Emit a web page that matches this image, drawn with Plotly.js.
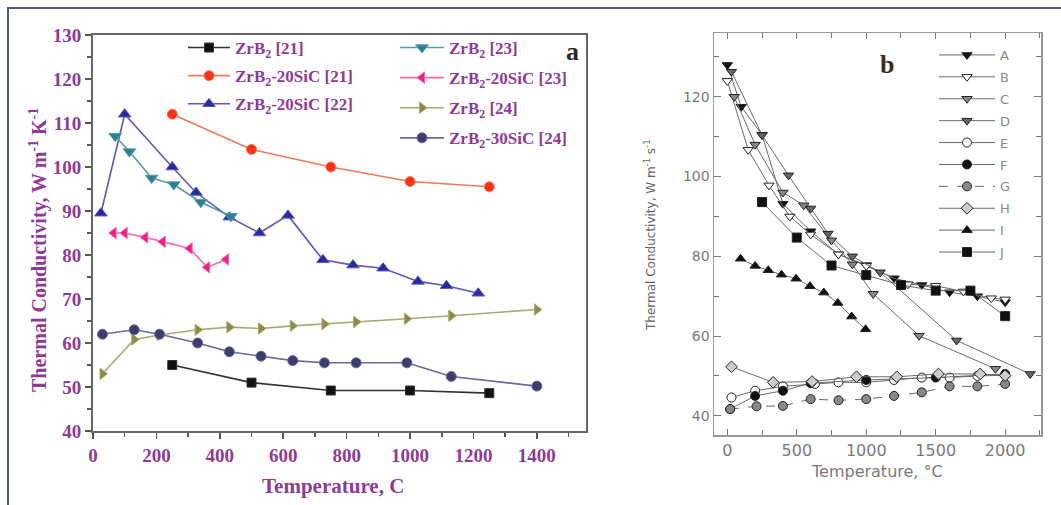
<!DOCTYPE html>
<html>
<head>
<meta charset="utf-8">
<script src="https://cdn.plot.ly/plotly-3.0.1.min.js"></script>
<style>html,body{margin:0;padding:0;background:#fff;}#chart{width:1061px;height:505px;}</style>
</head>
<body>
<div id="chart"></div>
<script>
// ---------- Panel a data (Temperature, C  vs  Thermal conductivity) ----------
const aNames = ["ZrB<sub>2</sub> [21]", "ZrB<sub>2</sub>-20SiC [21]", "ZrB<sub>2</sub>-20SiC [22]",
                "ZrB<sub>2</sub> [23]", "ZrB<sub>2</sub>-20SiC [23]", "ZrB<sub>2</sub> [24]", "ZrB<sub>2</sub>-30SiC [24]"];
const zrb2_21_x = [250, 500, 750, 1000, 1250];
const zrb2_21_y = [55, 51, 49.2, 49.2, 48.6];
const sic20_21_x = [250, 500, 750, 1000, 1250];
const sic20_21_y = [112, 104, 100, 96.7, 95.5];
const sic20_22_x = [25, 100, 250, 325, 430, 525, 615, 725, 820, 915, 1025, 1115, 1215];
const sic20_22_y = [89.5, 112, 100, 94.2, 88.6, 85, 89, 78.9, 77.7, 77, 74, 73, 71.3];
const zrb2_23_x = [70, 115, 185, 255, 340, 435];
const zrb2_23_y = [107, 103.5, 97.5, 96, 92, 88.8];
const sic20_23_x = [65, 100, 165, 220, 305, 360, 420];
const sic20_23_y = [85, 85, 84, 83, 81.5, 77.2, 79];
const zrb2_24_x = [30, 130, 210, 330, 430, 530, 630, 730, 830, 990, 1130, 1400];
const zrb2_24_y = [53, 60.8, 61.8, 63, 63.6, 63.3, 63.9, 64.3, 64.8, 65.5, 66.2, 67.6];
const sic30_24_x = [30, 130, 210, 330, 430, 530, 630, 730, 830, 990, 1130, 1400];
const sic30_24_y = [62, 63, 62, 60, 58, 57, 56, 55.5, 55.5, 55.5, 52.4, 50.2];
const aXTicks = [0, 200, 400, 600, 800, 1000, 1200, 1400];
const aYTicks = [40, 50, 60, 70, 80, 90, 100, 110, 120, 130];

// ---------- Panel b data ----------
const bNames = ["A", "B", "C", "D", "E", "F", "G", "H", "I", "J"];
const bA_x = [0, 100, 250, 400, 600, 800, 1000, 1200, 1400, 1600, 1800, 2000];
const bA_y = [128, 117.5, 110.5, 93.2, 86.3, 80.5, 77.8, 74.5, 72.8, 71, 70, 68.5];
const bB_x = [0, 150, 300, 450, 600, 800, 1000, 1300, 1500, 1700, 1900, 2000];
const bB_y = [124, 106.7, 97.8, 90, 85.5, 80.5, 77.6, 73, 72.6, 71.2, 69.5, 69.2];
const bC_x = [50, 200, 400, 550, 750, 900, 1050, 1380, 1930];
const bC_y = [120, 108, 96, 92.8, 84, 78, 70.6, 60.1, 51.8];
const bD_x = [30, 250, 440, 600, 725, 900, 1100, 1650, 2180];
const bD_y = [126.3, 110.4, 100.3, 92, 85.7, 80, 76, 58.9, 50.5];
const bE_x = [30, 200, 400, 630, 800, 1000, 1200, 1400, 1600, 1800, 2000];
const bE_y = [44.6, 46.3, 47.4, 48, 48.4, 48.4, 49, 49.6, 49.6, 50, 50.2];
const bF_x = [20, 200, 400, 600, 1000, 1500, 2000];
const bF_y = [41.7, 45, 46.3, 48.2, 49, 49.6, 50.5];
const bG_x = [20, 210, 400, 600, 800, 1000, 1200, 1400, 1600, 1800, 2000];
const bG_y = [41.7, 42.4, 42.5, 44.2, 43.9, 44.2, 45, 45.9, 47.4, 47.4, 48];
const bH_x = [30, 330, 610, 930, 1220, 1520, 1820, 2000];
const bH_y = [52.3, 48.4, 48.6, 49.8, 49.8, 50.5, 50.5, 50.1];
const bI_x = [95, 200, 295, 390, 495, 595, 695, 795, 895, 995];
const bI_y = [79.4, 77.6, 76.5, 75.4, 74.4, 72.5, 70.9, 68.3, 64.9, 61.7];
const bJ_x = [250, 500, 750, 1000, 1250, 1500, 1750, 2000];
const bJ_y = [93.6, 84.7, 77.7, 75.3, 72.8, 71.4, 71.4, 65];
const bXTicks = [0, 500, 1000, 1500, 2000];
const bYTicks = [40, 60, 80, 100, 120];

// ---------- styles ----------
const W = 1061, H = 505;
const px = v => v / W, py = v => 1 - v / H;
const purple = '#8e3b98';
const serif = 'Liberation Serif, Times New Roman, serif';
const sans = 'DejaVu Sans, Liberation Sans, Arial, sans-serif';

function aTrace(name, x, y, color, mcolor, symbol, size, leg, grp) {
  return {
    type: 'scatter', mode: 'lines+markers', name: name, x: x, y: y,
    xaxis: 'x', yaxis: 'y', legend: leg, legendgroup: grp,
    line: {color: color, width: 1.6},
    marker: {symbol: symbol, size: size, color: mcolor, line: {color: color, width: 1}}
  };
}
function bTrace(name, x, y, symbol, fill, dash, grp) {
  return {
    type: 'scatter', mode: 'lines+markers', name: name, x: x, y: y,
    xaxis: 'x2', yaxis: 'y2', legend: 'legend3', legendgroup: grp,
    line: {color: '#6a6a6a', width: 1, dash: dash},
    marker: {symbol: symbol, size: 9, color: fill, line: {color: '#222', width: 1}}
  };
}

const data = [
  aTrace(aNames[0], zrb2_21_x, zrb2_21_y, '#333333', '#111111', 'square', 9, 'legend', 'a1'),
  aTrace(aNames[1], sic20_21_x, sic20_21_y, '#f27a5a', '#ff3018', 'circle', 10, 'legend', 'a2'),
  aTrace(aNames[2], sic20_22_x, sic20_22_y, '#5a5ab8', '#2a2a9e', 'triangle-up', 11, 'legend', 'a3'),
  aTrace(aNames[3], zrb2_23_x, zrb2_23_y, '#5a9aaa', '#2f7f90', 'triangle-down', 11, 'legend2', 'a4'),
  aTrace(aNames[4], sic20_23_x, sic20_23_y, '#f070b0', '#ee1f88', 'triangle-left', 10, 'legend2', 'a5'),
  aTrace(aNames[5], zrb2_24_x, zrb2_24_y, '#aaaa70', '#8c8c48', 'triangle-right', 10, 'legend2', 'a6'),
  aTrace(aNames[6], sic30_24_x, sic30_24_y, '#6a6a9a', '#3d3d6c', 'circle', 10, 'legend2', 'a7'),
  bTrace(bNames[0], bA_x, bA_y, 'triangle-down', '#111', 'solid', 'b1'),
  bTrace(bNames[1], bB_x, bB_y, 'triangle-down', '#fff', 'solid', 'b2'),
  bTrace(bNames[2], bC_x, bC_y, 'triangle-down', '#888', 'solid', 'b3'),
  bTrace(bNames[3], bD_x, bD_y, 'triangle-down', '#666', 'solid', 'b4'),
  bTrace(bNames[4], bE_x, bE_y, 'circle', '#fff', 'solid', 'b5'),
  bTrace(bNames[5], bF_x, bF_y, 'circle', '#111', 'solid', 'b6'),
  bTrace(bNames[6], bG_x, bG_y, 'circle', '#888', 'dash', 'b7'),
  bTrace(bNames[7], bH_x, bH_y, 'diamond', '#ccc', 'solid', 'b8'),
  bTrace(bNames[8], bI_x, bI_y, 'triangle-up', '#111', 'solid', 'b9'),
  bTrace(bNames[9], bJ_x, bJ_y, 'square', '#111', 'solid', 'b10')
];

const aLegFont = {family: serif, size: 17, color: purple, weight: 'bold'};
function ann(x, y, text, font, angle) {
  return {xref: 'paper', yref: 'paper', x: px(x), y: py(y), xanchor: 'center', yanchor: 'middle',
          text: text, textangle: angle || 0, showarrow: false, font: font};
}
const layout = {
  width: W, height: H,
  margin: {l: 0, r: 0, t: 0, b: 0},
  paper_bgcolor: '#fff', plot_bgcolor: '#fff',
  showlegend: true,
  xaxis: {
    domain: [px(93), px(586)], range: [0, 1555],
    tickvals: aXTicks, ticks: 'outside', ticklen: 6, tickwidth: 1.5, tickcolor: '#555',
    minor: {dtick: 100, ticks: 'outside', ticklen: 4, tickcolor: '#555', tickwidth: 1.5},
    showline: true, linecolor: '#666', linewidth: 2, mirror: true,
    showgrid: false, zeroline: false,
    tickfont: {family: serif, size: 19, color: purple, weight: 'bold'}
  },
  yaxis: {
    domain: [py(431), py(35)], range: [40, 130],
    tickvals: aYTicks, ticks: 'outside', ticklen: 6, tickwidth: 1.5, tickcolor: '#555',
    minor: {dtick: 5, ticks: 'outside', ticklen: 4, tickcolor: '#555', tickwidth: 1.5},
    showline: true, linecolor: '#666', linewidth: 2, mirror: true,
    showgrid: false, zeroline: false,
    tickfont: {family: serif, size: 19, color: purple, weight: 'bold'}
  },
  xaxis2: {
    domain: [px(714), px(1041)], range: [-96, 2258], anchor: 'y2',
    tickvals: bXTicks, ticks: 'inside', ticklen: 6, tickwidth: 1, tickcolor: '#777',
    minor: {dtick: 250, ticks: 'inside', ticklen: 5, tickcolor: '#777'},
    showline: true, linecolor: '#999', linewidth: 1.5, mirror: 'allticks',
    showgrid: false, zeroline: false,
    tickfont: {family: sans, size: 16, color: '#7a7a7a'}
  },
  yaxis2: {
    domain: [py(435), py(33)], range: [35.2, 136], anchor: 'x2',
    tickvals: bYTicks, ticks: 'inside', ticklen: 7, tickwidth: 1, tickcolor: '#777',
    minor: {dtick: 10, ticks: 'inside', ticklen: 5, tickcolor: '#777'},
    showline: true, linecolor: '#999', linewidth: 1.5, mirror: 'allticks',
    showgrid: false, zeroline: false,
    tickfont: {family: sans, size: 14, color: '#7a7a7a'}
  },
  legend: {
    x: px(183), y: py(30), xanchor: 'left', yanchor: 'top',
    bgcolor: 'rgba(0,0,0,0)', font: aLegFont, tracegroupgap: 3, itemwidth: 42
  },
  legend2: {
    x: px(395), y: py(30), xanchor: 'left', yanchor: 'top',
    bgcolor: 'rgba(0,0,0,0)', font: aLegFont, tracegroupgap: 5, itemwidth: 44
  },
  legend3: {
    x: px(934), y: py(40), xanchor: 'left', yanchor: 'top',
    bgcolor: 'rgba(0,0,0,0)', font: {family: sans, size: 13, color: '#8a8a8a'}, tracegroupgap: 2, itemwidth: 56
  },
  annotations: [
    ann(38, 250, 'Thermal Conductivity, W m<sup>-1</sup> K<sup>-1</sup>', {family: serif, size: 20, color: purple, weight: 'bold'}, -90),
    ann(333, 486, 'Temperature, C', {family: serif, size: 21, color: purple, weight: 'bold'}),
    ann(572, 52, 'a', {family: serif, size: 26, color: '#2a2a2a', weight: 'bold'}),
    ann(650, 236, 'Thermal Conductivity, W m<sup>-1</sup> s<sup>-1</sup>', {family: sans, size: 12, color: '#666'}, -90),
    ann(877, 471, 'Temperature, \u00b0C', {family: sans, size: 16, color: '#7a7a7a'}),
    ann(887, 64, 'b', {family: serif, size: 26, color: '#3a3020', weight: 'bold'})
  ],
  shapes: [
    {type: 'rect', xref: 'paper', yref: 'paper', x0: px(8), x1: 1.02, y0: -0.02, y1: py(8),
     line: {color: '#4d5b7c', width: 2}}
  ]
};

Plotly.newPlot('chart', data, layout, {displayModeBar: false, staticPlot: true});
</script>
</body>
</html>
